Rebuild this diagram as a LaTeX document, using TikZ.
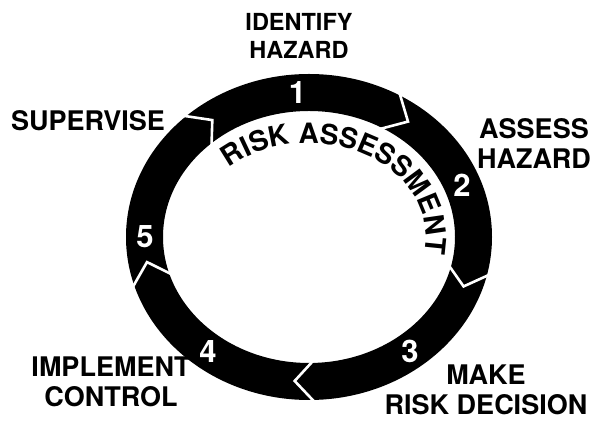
\documentclass[tikz,border=0pt]{standalone}
\usepackage{fontspec}
\setmainfont{TeX Gyre Heros}
\usetikzlibrary{decorations.text}
\tikzset{
  lbl/.style={font=\fontsize{27}{30}\selectfont\bfseries, align=center, inner sep=0pt},
  toplbl/.style={lbl, font=\fontsize{23.5}{28}\selectfont\bfseries},
  num/.style={font=\fontsize{31}{31}\selectfont\bfseries, text=white, inner sep=0pt},
  ring/.style={fill=black, even odd rule},
  gapline/.style={draw=white, line width=2.6pt, line join=miter},
}
\begin{document}
\begin{tikzpicture}[x=1pt,y=1pt]
\useasboundingbox (0,0) rectangle (595,422);
\coordinate (c) at (309,185);
% the ring and its five arrow joints
\fill[ring] (c) ellipse (183pt and 163pt) (c) ellipse (146pt and 126pt);
\foreach \a/\t in {133/126, 61/53, 347/340, 272/265, 198/190}
  \draw[gapline] ([shift={(c)}]\a:186pt and 166pt) -- ([shift={(c)}]\t:164.5pt and 144.5pt)
    -- ([shift={(c)}]\a:143pt and 123pt);
% step numbers
\node[num] (n1) at ([shift={(c)}]94:164pt and 145pt) {1};
\node[num] (n2) at ([shift={(c)}]21:164pt and 145pt) {2};
\node[num] (n3) at ([shift={(c)}]-52:164pt and 145pt) {3};
\node[num] (n4) at ([shift={(c)}]232:164pt and 145pt) {4};
\node[num] (n5) at ([shift={(c)}]180:164pt and 145pt) {5};
% inner title
\path[decorate, decoration={text along path, text align=fit to path,
  text={|\fontsize{28}{28}\selectfont\bfseries|RISK ASSESSMENT}}]
  ([shift={(c)}]133:117pt and 94pt) arc[start angle=133, end angle=-5, x radius=117pt, y radius=94pt];
% step labels
\node[toplbl] (ident) at (299,386) {IDENTIFY\\HAZARD};
\node[lbl] (assess) at (534,278) {ASSESS\\HAZARD};
\node[lbl] (decide) at (486,32) {MAKE\\RISK DECISION};
\node[lbl] (impl) at (111,40) {IMPLEMENT\\CONTROL};
\node[lbl] (superv) at (88,301) {SUPERVISE};
\end{tikzpicture}
\end{document}
